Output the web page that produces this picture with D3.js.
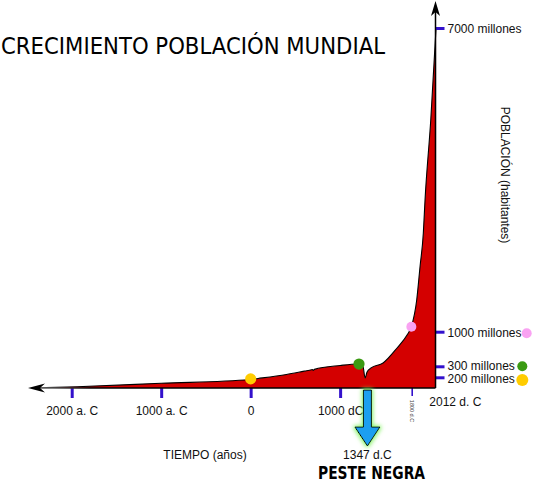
<!DOCTYPE html>
<html>
<head>
<meta charset="utf-8">
<script src="https://cdn.jsdelivr.net/npm/d3@7"></script>
<style>
  html, body { margin: 0; padding: 0; background: #fff; }
  svg { display: block; }
</style>
</head>
<body>
<svg id="chart" width="533" height="482"></svg>
<script>
// ---- data ----
const curveYears  = [-2400, -1940, -1000, -4, 83, 400, 600, 680, 690, 700, 712, 1000, 1200, 1256, 1279, 1301, 1346, 1480, 1636, 1748, 1796, 1856, 1893, 1930, 1949, 2013, 2072];
const curveValues = [2, 24, 88, 159, 178, 226, 256, 268, 270, 262, 272, 316, 346, 298, 187, 249, 285, 367, 670, 932, 1099, 1626, 2284, 2950, 3602, 5183, 7000];

const xTickYears  = [-2000, -1000, 0, 1000, 1800];
const xTickLabels = ["2000 a. C", "1000 a. C", "0", "1000 dC", "1800 d.C"];
const yTickValues = [200, 300, 1000, 7000];
const yTickLabels = ["200 millones", "300 millones", "1000 millones", "7000 millones"];

const dotYears  = [0, 1211, 1796];
const dotValues = [170, 346, 1099];
const dotColors = ["#ffcc00", "#3a9a12", "#f9a2f2"];
const dotLegendValues = [200, 300, 1000];

const titleText = "CRECIMIENTO POBLACIÓN MUNDIAL";
const xTitle = "TIEMPO (años)";
const yTitle = "POBLACIÓN (habitantes)";
const endLabel = "2012 d. C";
const pesteLabel = "1347 d.C";
const pesteTitle = "PESTE NEGRA";
const pesteArrowAt = 1305;

// ---- scales ----
const x = d3.scaleLinear().domain([-2000, 1800]).range([71.7, 411.7]);
const y = d3.scaleLinear().domain([0, 200, 300, 1000, 7000]).range([388, 377.3, 366.3, 331.7, 28]);

const svg = d3.select("#chart");
const defs = svg.append("defs");

const grad = defs.append("linearGradient").attr("id", "axisGrad")
  .attr("gradientUnits", "userSpaceOnUse").attr("x1", 28).attr("x2", 90).attr("y1", 0).attr("y2", 0);
grad.append("stop").attr("offset", 0).attr("stop-color", "#9a9a9a");
grad.append("stop").attr("offset", 1).attr("stop-color", "#000");

const glow = defs.append("filter").attr("id", "glow").attr("x", "-50%").attr("y", "-20%").attr("width", "200%").attr("height", "140%");
glow.append("feMorphology").attr("in", "SourceAlpha").attr("operator", "dilate").attr("radius", 1).attr("result", "d");
glow.append("feGaussianBlur").attr("in", "d").attr("stdDeviation", 2.2).attr("result", "b");
glow.append("feFlood").attr("flood-color", "#7cf25a").attr("flood-opacity", 0.9).attr("result", "f");
glow.append("feComposite").attr("in", "f").attr("in2", "b").attr("operator", "in").attr("result", "g");
const merge = glow.append("feMerge");
merge.append("feMergeNode").attr("in", "g");
merge.append("feMergeNode").attr("in", "SourceGraphic");

const pts = curveYears.map((yr, i) => [yr, curveValues[i]]);

// area
const area = d3.area().x(d => x(d[0])).y0(y(0)).y1(d => y(d[1])).curve(d3.curveMonotoneX);
svg.append("path").datum(pts).attr("d", area).attr("fill", "#d40000");
const line = d3.line().x(d => x(d[0])).y(d => y(d[1])).curve(d3.curveMonotoneX);
svg.append("path").datum(pts).attr("d", line).attr("fill", "none").attr("stroke", "#000").attr("stroke-width", 1.1);

const axisX = 435.5;
const baseY = y(0);

// x axis ticks
const xAxis = d3.axisBottom(x).tickValues(xTickYears).tickSize(10).tickPadding(8)
  .tickFormat((d, i) => xTickLabels[i]);
const gx = svg.append("g").attr("transform", `translate(0,${baseY})`).call(xAxis);
gx.select(".domain").remove();
gx.selectAll(".tick line").attr("stroke", "#3311cc").attr("stroke-width", 3);
gx.selectAll(".tick text").attr("font-family", "'Liberation Sans', Arial, sans-serif").attr("font-size", 12).attr("fill", "#111");
gx.selectAll(".tick").filter(d => d === 1800).each(function () {
  const t = d3.select(this);
  t.select("line").attr("stroke-width", 1.6).attr("y2", 8);
  t.select("text").attr("font-size", 5.5).attr("dy", null).attr("text-anchor", "middle")
    .attr("y", null).attr("transform", "translate(0,23) rotate(90)").attr("dominant-baseline", "central").attr("fill", "#444");
});

// baseline with left arrow
svg.append("line").attr("x1", 34).attr("x2", axisX).attr("y1", baseY).attr("y2", baseY)
  .attr("stroke", "url(#axisGrad)").attr("stroke-width", 1.5);
svg.append("path").attr("d", `M28,${baseY} L45,${baseY - 4.5} L40,${baseY} L45,${baseY + 4.5} Z`).attr("fill", "#000");

// y axis
const yAxis = d3.axisRight(y).tickValues(yTickValues).tickSize(9).tickPadding(3)
  .tickFormat((d, i) => yTickLabels[i]);
const gy = svg.append("g").attr("transform", `translate(${axisX},0)`).call(yAxis);
gy.select(".domain").remove();
gy.selectAll(".tick line").attr("stroke", "#3311cc").attr("stroke-width", 3);
gy.selectAll(".tick text").attr("font-family", "'Liberation Sans', Arial, sans-serif").attr("font-size", 12).attr("fill", "#111")
  .attr("dy", d => d === 300 ? "0.27em" : (d === 200 ? "0.43em" : "0.38em"));

svg.append("line").attr("x1", axisX).attr("x2", axisX).attr("y1", baseY).attr("y2", 8)
  .attr("stroke", "#000").attr("stroke-width", 1.5);
svg.append("path").attr("d", `M${axisX},1 L${axisX + 4.5},16 L${axisX},12 L${axisX - 4.5},16 Z`).attr("fill", "#000");

// dots on curve
svg.selectAll("circle.on").data(dotYears).enter().append("circle").attr("class", "on")
  .attr("cx", d => x(d)).attr("cy", (d, i) => y(dotValues[i]))
  .attr("r", (d, i) => i === 2 ? 5 : 5.6).attr("fill", (d, i) => dotColors[i]);

// legend dots next to y labels
svg.selectAll("circle.leg").data(dotLegendValues).enter().append("circle").attr("class", "leg")
  .attr("cx", (d, i) => axisX + (i === 2 ? 91.2 : 86.8))
  .attr("cy", (d, i) => y(d) + (i === 0 ? 2.7 : (i === 2 ? 1.6 : 0)))
  .attr("r", (d, i) => i === 0 ? 6 : 5).attr("fill", (d, i) => dotColors[i]);

// texts
svg.append("text").attr("x", 1).attr("y", 53.5).text(titleText)
  .attr("font-family", "'DejaVu Sans', sans-serif").attr("font-size", 23)
  .attr("textLength", 384).attr("lengthAdjust", "spacingAndGlyphs").attr("fill", "#000");

svg.append("text").attr("transform", "translate(505,175) rotate(90)").attr("text-anchor", "middle")
  .attr("dy", "0.35em").text(yTitle)
  .attr("font-family", "'Liberation Sans', Arial, sans-serif").attr("font-size", 12).attr("fill", "#111");

svg.append("text").attr("x", 205).attr("y", 459).attr("text-anchor", "middle").text(xTitle)
  .attr("font-family", "'Liberation Sans', Arial, sans-serif").attr("font-size", 12).attr("fill", "#111");

svg.append("text").attr("x", 429.3).attr("y", 406).text(endLabel)
  .attr("font-family", "'Liberation Sans', Arial, sans-serif").attr("font-size", 12).attr("fill", "#111");

// peste negra arrow
const ax = x(pesteArrowAt);
svg.append("path")
  .attr("d", `M${ax - 4},390 L${ax + 4},390 L${ax + 4},427 L${ax + 12.5},427 L${ax},446 L${ax - 12.5},427 L${ax - 4},427 Z`)
  .attr("fill", "#1e9ff0").attr("stroke", "#000").attr("stroke-width", 1).attr("filter", "url(#glow)");

svg.append("text").attr("x", ax).attr("y", 459).attr("text-anchor", "middle").text(pesteLabel)
  .attr("font-family", "'Liberation Sans', Arial, sans-serif").attr("font-size", 12).attr("fill", "#111");

svg.append("text").attr("x", 318).attr("y", 479).text(pesteTitle)
  .attr("font-family", "'DejaVu Sans', sans-serif").attr("font-weight", "bold").attr("font-size", 18)
  .attr("textLength", 107).attr("lengthAdjust", "spacingAndGlyphs").attr("fill", "#000");
</script>
</body>
</html>
